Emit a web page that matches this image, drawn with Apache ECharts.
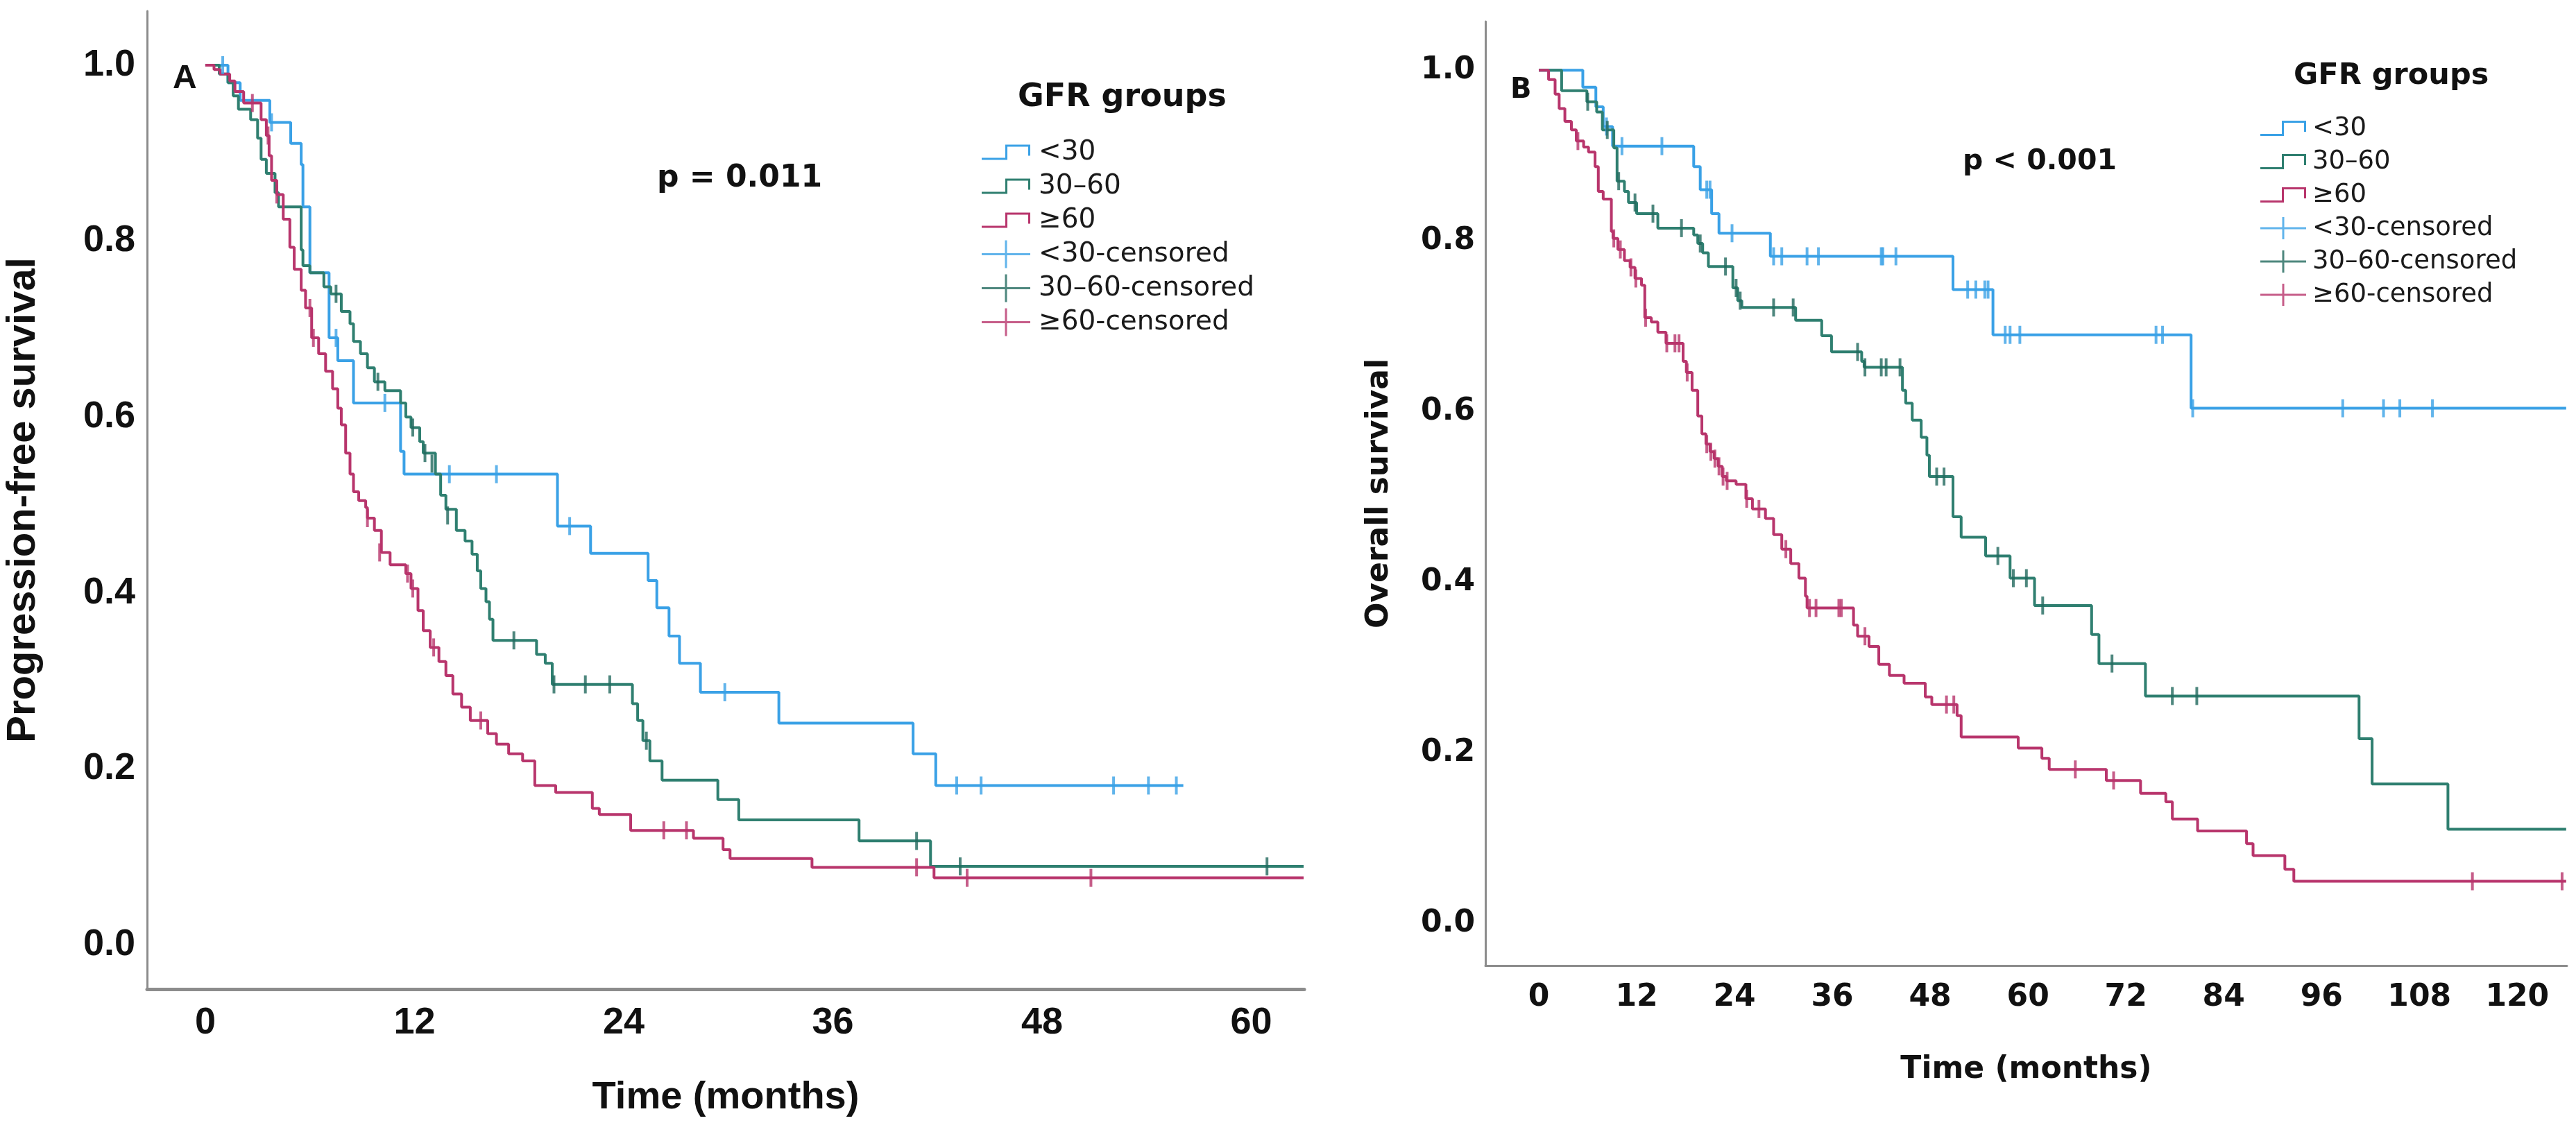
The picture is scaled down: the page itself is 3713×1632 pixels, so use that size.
<!DOCTYPE html>
<html lang="en">
<head>
<meta charset="UTF-8">
<title>PFS / OS by GFR groups</title>
<script src="https://cdn.jsdelivr.net/npm/echarts@6/dist/echarts.min.js"></script>
<style>
    html, body { margin: 0; padding: 0; background: #fff; }
    #main { width: 3713px; height: 1632px; }
</style>
</head>
<body>
<div id="main"></div>
<script>
// ---------- values: [months, survival] ----------
var groupNames = ['<30', '30–60', '≥60'];
var censNames = ['<30-censored', '30–60-censored', '≥60-censored'];

var monthTicksA = [0, 12, 24, 36, 48, 60];
var monthTicksB = [0, 12, 24, 36, 48, 60, 72, 84, 96, 108, 120];
var survTicks = [0, 0.2, 0.4, 0.6, 0.8, 1.0];

// A: progression-free survival
var pfsLt30 = [[0,1],[1.3,0.98],[2.0,0.96],[3.7,0.935],[4.9,0.911],[5.5,0.887],[5.6,0.839],[6.0,0.764],
    [7.1,0.69],[7.6,0.664],[8.5,0.616],[11.2,0.561],[11.4,0.535],[20.2,0.476],[22.1,0.445],[25.4,0.414],
    [25.9,0.383],[26.6,0.351],[27.2,0.32],[28.4,0.287],[32.9,0.252],[40.6,0.217],[41.9,0.181],[56.1,0.181]];
var pfsLt30Cens = [[1.0,1.0],[3.8,0.935],[7.5,0.69],[10.3,0.616],[14.0,0.535],[16.7,0.535],[20.9,0.476],
    [29.8,0.287],[43.1,0.181],[44.5,0.181],[52.1,0.181],[54.1,0.181],[55.7,0.181]];

var pfs3060 = [[0,1],[0.8,0.99],[1.3,0.98],[1.6,0.965],[1.9,0.95],[2.6,0.938],[3.0,0.917],[3.2,0.893],
    [3.5,0.877],[4.0,0.855],[4.2,0.839],[5.5,0.79],[5.6,0.772],[6.0,0.764],[6.8,0.748],[7.2,0.74],[7.8,0.72],
    [8.3,0.706],[8.5,0.686],[8.9,0.672],[9.3,0.656],[9.7,0.64],[10.3,0.63],[11.2,0.616],[11.5,0.6],[11.8,0.588],
    [12.3,0.572],[12.5,0.559],[13.2,0.535],[13.5,0.511],[13.8,0.495],[14.4,0.471],[14.9,0.459],[15.3,0.444],
    [15.6,0.425],[15.8,0.405],[16.1,0.39],[16.3,0.37],[16.5,0.346],[19.0,0.33],[19.5,0.32],[19.9,0.296],
    [24.5,0.274],[24.8,0.255],[25.1,0.232],[25.5,0.209],[26.2,0.187],[29.4,0.165],[30.6,0.142],[37.5,0.118],
    [41.6,0.089],[63,0.089]];
var pfs3060Cens = [[7.5,0.74],[9.9,0.64],[11.9,0.588],[12.6,0.559],[13.0,0.547],[13.9,0.488],[17.7,0.346],
    [20.0,0.296],[21.8,0.296],[23.2,0.296],[25.3,0.232],[40.8,0.118],[43.3,0.089],[60.9,0.089]];

var pfsGe60 = [[0,1],[0.5,0.995],[0.85,0.99],[1.4,0.982],[1.7,0.97],[2.2,0.957],[3.2,0.938],[3.5,0.92],
    [3.66,0.897],[3.8,0.869],[4.1,0.853],[4.47,0.825],[4.85,0.793],[5.1,0.768],[5.5,0.744],[5.75,0.724],
    [6.1,0.69],[6.5,0.672],[6.9,0.652],[7.3,0.632],[7.6,0.61],[7.8,0.591],[8.05,0.559],[8.3,0.535],[8.5,0.515],
    [8.8,0.505],[9.2,0.497],[9.3,0.485],[9.7,0.471],[10.1,0.446],[10.6,0.432],[11.5,0.422],[11.8,0.405],
    [12.2,0.38],[12.5,0.357],[12.9,0.338],[13.4,0.322],[13.8,0.306],[14.2,0.285],[14.7,0.27],[15.2,0.255],
    [16.2,0.24],[16.7,0.228],[17.4,0.217],[18.2,0.209],[18.9,0.181],[20.1,0.173],[22.2,0.155],[22.6,0.148],
    [24.4,0.13],[28.0,0.121],[29.7,0.108],[30.1,0.098],[34.8,0.088],[41.8,0.076],[63,0.076]];
var pfsGe60Cens = [[2.7,0.957],[3.6,0.92],[4.1,0.853],[6.0,0.724],[6.2,0.69],[9.3,0.485],[10.0,0.446],
    [11.6,0.422],[11.9,0.405],[13.1,0.338],[15.8,0.255],[26.3,0.13],[27.6,0.13],[40.8,0.088],[43.7,0.076],
    [50.8,0.076]];

// B: overall survival
var osLt30 = [[0,1],[5.4,0.98],[7.0,0.957],[7.9,0.934],[9.05,0.911],[19.0,0.887],[19.8,0.86],[21.2,0.832],
    [22.1,0.809],[28.4,0.782],[50.8,0.743],[55.7,0.69],[80.0,0.604],[126,0.604]];
var osLt30Cens = [[8.3,0.934],[10.2,0.911],[15.1,0.911],[20.6,0.86],[21.0,0.86],[23.7,0.809],[28.8,0.782],
    [29.8,0.782],[32.9,0.782],[34.3,0.782],[42.0,0.782],[42.2,0.782],[43.8,0.782],[52.6,0.743],[53.6,0.743],
    [54.7,0.743],[55.1,0.743],[57.2,0.69],[57.8,0.69],[59.0,0.69],[75.7,0.69],[76.5,0.69],[80.2,0.604],
    [98.6,0.604],[103.6,0.604],[105.6,0.604],[109.6,0.604]];

var os3060 = [[0,1],[2.8,0.976],[5.9,0.963],[7.1,0.951],[7.8,0.93],[9.2,0.909],[9.6,0.87],[10.5,0.858],
    [11.0,0.845],[12.0,0.832],[14.6,0.815],[19.0,0.807],[19.5,0.797],[20.1,0.786],[20.8,0.77],[23.8,0.745],
    [24.4,0.73],[24.9,0.722],[31.5,0.707],[34.7,0.689],[35.9,0.67],[39.6,0.659],[39.9,0.652],[44.6,0.625],
    [45.0,0.61],[45.8,0.59],[46.9,0.57],[47.6,0.549],[47.9,0.524],[50.8,0.477],[51.8,0.453],[54.8,0.431],
    [57.8,0.405],[60.8,0.373],[67.8,0.339],[68.7,0.305],[74.4,0.267],[100.6,0.217],[102.2,0.164],
    [111.5,0.111],[126,0.111]];
var os3060Cens = [[6.0,0.963],[8.4,0.93],[9.8,0.87],[11.8,0.845],[14.0,0.832],[17.5,0.815],[19.8,0.797],
    [22.9,0.77],[24.2,0.745],[24.7,0.73],[28.8,0.722],[31.2,0.722],[39.1,0.67],[40.0,0.652],[42.0,0.652],
    [42.6,0.652],[44.3,0.652],[48.8,0.524],[49.7,0.524],[56.3,0.431],[58.2,0.405],[59.8,0.405],[61.8,0.373],
    [70.3,0.305],[77.7,0.267],[80.7,0.267]];

var osGe60 = [[0,1],[1.2,0.989],[2.0,0.972],[2.5,0.955],[3.2,0.94],[4.0,0.93],[4.6,0.917],[5.5,0.91],
    [6.1,0.904],[6.9,0.887],[7.3,0.858],[7.9,0.849],[8.9,0.811],[9.1,0.803],[9.7,0.79],[10.5,0.777],
    [11.2,0.769],[11.8,0.756],[12.6,0.748],[13.0,0.71],[13.8,0.705],[14.6,0.693],[15.6,0.68],[17.7,0.659],
    [18.1,0.646],[18.8,0.625],[19.5,0.595],[20.0,0.574],[20.5,0.562],[21.0,0.553],[21.5,0.545],[22.0,0.536],
    [22.5,0.524],[23.0,0.519],[24.2,0.515],[25.4,0.498],[26.2,0.486],[27.8,0.475],[28.8,0.456],[29.8,0.439],
    [30.9,0.422],[31.9,0.405],[32.7,0.384],[32.9,0.37],[38.6,0.35],[39.1,0.337],[40.5,0.325],[41.7,0.304],
    [43.0,0.291],[44.8,0.282],[47.4,0.266],[48.2,0.257],[51.3,0.244],[51.8,0.219],[58.8,0.206],[61.7,0.194],
    [62.6,0.181],[69.6,0.168],[73.8,0.153],[76.9,0.143],[77.7,0.123],[80.8,0.109],[86.8,0.094],[87.6,0.08],
    [91.5,0.064],[92.6,0.05],[126,0.05]];
var osGe60Cens = [[4.8,0.917],[9.2,0.803],[10.0,0.79],[11.3,0.769],[11.9,0.756],[13.1,0.71],[15.7,0.68],
    [16.7,0.68],[17.2,0.68],[18.2,0.646],[20.6,0.562],[21.1,0.553],[21.6,0.545],[22.1,0.536],[22.6,0.524],
    [23.1,0.519],[25.5,0.498],[27.0,0.486],[30.3,0.439],[33.2,0.37],[34.0,0.37],[36.8,0.37],[37.1,0.37],
    [40.0,0.337],[50.0,0.257],[50.9,0.257],[65.8,0.181],[70.5,0.168],[114.5,0.05],[125.5,0.05]];

// ---------- styling ----------
var colors = ['#3aa1e6', '#2f7f70', '#b8356c'];
var censColors = ['#3aa1e6', '#22695e', '#b8356c'];
var fontA = '"Liberation Sans", Arial, sans-serif';
var fontB = '"DejaVu Sans", Verdana, sans-serif';

// legend glyphs (tiny corner dots pin the box so the step sits lower/shorter than the cross)
var stepIconA = 'path://M0,0h0.01v0.01h-0.01z M69.99,39.99h0.01v0.01h-0.01z M0,28H34V9H70V25H67V12H37V31H0Z';
var crossIconA = 'path://M0,18.5H33.5V0H36.5V18.5H70V21.5H36.5V40H33.5V21.5H0Z';
var stepIconB = 'path://M0,0h0.01v0.01h-0.01z M65.99,31.99h0.01v0.01h-0.01z M0,24H31V5H66V21H63V8H34V27H0Z';
var crossIconB = 'path://M0,14.5H31.5V0H34.5V14.5H66V17.5H34.5V32H31.5V17.5H0Z';

function kmLine(name, data, i, panel) {
    return {
        name: name, type: 'line', step: 'end', data: data,
        xAxisIndex: panel, yAxisIndex: panel,
        symbol: 'none', z: 2,
        lineStyle: { width: 4, color: colors[i] },
        itemStyle: { color: colors[i] }
    };
}
function kmCens(name, data, i, panel) {
    return {
        name: name, type: 'scatter', data: data,
        xAxisIndex: panel, yAxisIndex: panel,
        symbol: 'rect', symbolSize: [4, 26], z: 3,
        itemStyle: { color: censColors[i] }
    };
}
function legendData(stepIcon, crossIcon) {
    var d = [];
    groupNames.forEach(function (n) { d.push({ name: n, icon: stepIcon }); });
    censNames.forEach(function (n) { d.push({ name: n, icon: crossIcon }); });
    return d;
}
function xAxisOf(panel, min, max, ticks, font, size, margin, lineW, titleSize) {
    return {
        type: 'value', gridIndex: panel, min: min, max: max,
        name: 'Time (months)', nameLocation: 'middle', nameGap: 129,
        nameTextStyle: { fontFamily: font, fontWeight: 'bold', fontSize: titleSize, color: '#111' },
        axisLine: { onZero: false, lineStyle: { color: '#8c8c8c', width: lineW } },
        axisTick: { show: false },
        splitLine: { show: false },
        axisLabel: {
            customValues: ticks, margin: margin,
            fontFamily: font, fontWeight: 'bold', fontSize: size, color: '#111'
        }
    };
}
function yAxisOf(panel, min, max, title, font, size, margin, gap, titleSize) {
    return {
        type: 'value', gridIndex: panel, min: min, max: max,
        name: title, nameLocation: 'middle', nameGap: gap,
        nameTextStyle: { fontFamily: font, fontWeight: 'bold', fontSize: titleSize, color: '#111' },
        axisLine: { onZero: false, lineStyle: { color: '#8c8c8c', width: 3 } },
        axisTick: { show: false },
        splitLine: { show: false },
        axisLabel: {
            customValues: survTicks, margin: margin,
            formatter: function (v) { return v.toFixed(1); },
            fontFamily: font, fontWeight: 'bold', fontSize: size, color: '#111'
        }
    };
}

var series = [
    kmLine(groupNames[0], pfsLt30, 0, 0), kmLine(groupNames[1], pfs3060, 1, 0), kmLine(groupNames[2], pfsGe60, 2, 0),
    kmCens(censNames[0], pfsLt30Cens, 0, 0), kmCens(censNames[1], pfs3060Cens, 1, 0), kmCens(censNames[2], pfsGe60Cens, 2, 0),
    kmLine(groupNames[0], osLt30, 0, 1), kmLine(groupNames[1], os3060, 1, 1), kmLine(groupNames[2], osGe60, 2, 1),
    kmCens(censNames[0], osLt30Cens, 0, 1), kmCens(censNames[1], os3060Cens, 1, 1), kmCens(censNames[2], osGe60Cens, 2, 1)
];

var option = {
    animation: false,
    backgroundColor: '#fff',
    grid: [
        { left: 212, top: 16, width: 1668, height: 1410 },
        { left: 2141, top: 31, width: 1559, height: 1361 }
    ],
    xAxis: [
        xAxisOf(0, -3.34, 63.04, monthTicksA, fontA, 54, 22, 5, 56),
        xAxisOf(1, -6.55, 126.1, monthTicksB, fontB, 44, 25, 3, 44)
    ],
    yAxis: [
        yAxisOf(0, -0.0505, 1.0615, 'Progression-free survival', fontA, 54, 17, 149, 58),
        yAxisOf(1, -0.0487, 1.057, 'Overall survival', fontB, 44, 15, 130, 44)
    ],
    legend: [
        {
            orient: 'vertical', left: 1415, top: 195, padding: 0, itemGap: 0,
            itemWidth: 70, itemHeight: 40, selectedMode: false,
            itemStyle: { borderWidth: 0 },
            textStyle: { fontFamily: fontB, fontSize: 39, color: '#1a1a1a', lineHeight: 49, padding: [0, 0, 0, 7] },
            data: legendData(stepIconA, crossIconA)
        },
        {
            orient: 'vertical', left: 3258, top: 161, padding: 0, itemGap: 0,
            itemWidth: 66, itemHeight: 32, selectedMode: false,
            itemStyle: { borderWidth: 0 },
            textStyle: { fontFamily: fontB, fontSize: 37, color: '#1a1a1a', lineHeight: 48, padding: [0, 0, 0, 4] },
            data: legendData(stepIconB, crossIconB)
        }
    ],
    graphic: [
        { type: 'text', x: 249, y: 114, style: { text: 'A', font: 'bold 48px ' + fontA, fill: '#111', verticalAlign: 'middle' } },
        { type: 'text', x: 947, y: 258, style: { text: 'p = 0.011', font: 'bold 44px ' + fontB, fill: '#111', verticalAlign: 'middle' } },
        { type: 'text', x: 1467, y: 141, style: { text: 'GFR groups', font: 'bold 46px ' + fontB, fill: '#111', verticalAlign: 'middle' } },
        { type: 'text', x: 2177, y: 131, style: { text: 'B', font: 'bold 40px ' + fontB, fill: '#111', verticalAlign: 'middle' } },
        { type: 'text', x: 2829, y: 233, style: { text: 'p < 0.001', font: 'bold 41px ' + fontB, fill: '#111', verticalAlign: 'middle' } },
        { type: 'text', x: 3306, y: 110, style: { text: 'GFR groups', font: 'bold 43px ' + fontB, fill: '#111', verticalAlign: 'middle' } }
    ],
    series: series
};

var myChart = echarts.init(document.getElementById('main'));
myChart.setOption(option);
</script>
</body>
</html>
